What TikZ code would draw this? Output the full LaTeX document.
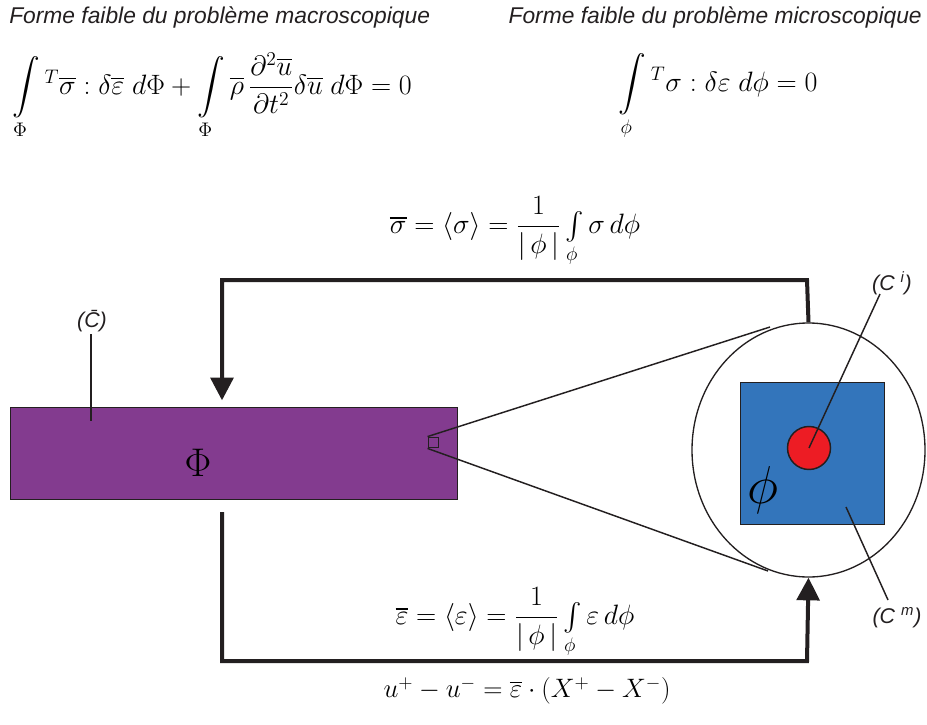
\RequirePackage{fix-cm}
\documentclass[tikz,border=0pt]{standalone}
\usepackage{fontspec}
\usepackage{amsmath}
\usetikzlibrary{arrows.meta,shapes.geometric}
\newfontfamily\labfont{Liberation Sans}
\definecolor{macro}{RGB}{131,59,143}
\definecolor{micro}{RGB}{51,117,187}
\definecolor{incl}{RGB}{237,28,36}
\definecolor{txt}{RGB}{35,31,32}
\begin{document}
\begin{tikzpicture}[x=0.75pt,y=-0.75pt,
  title/.style={font=\labfont\itshape\fontsize{17.1}{19}\selectfont,text=txt,inner sep=0pt},
  lab/.style={font=\labfont\itshape\fontsize{16}{18}\selectfont,text=txt,inner sep=0pt},
  eq/.style={font=\fontsize{21}{25}\selectfont,inner sep=0pt},
  flow/.style={line width=3pt,draw=txt},
  thin/.style={line width=1.1pt,draw=txt},
  head/.style={-{Triangle[width=17pt,length=17pt]}}]
\useasboundingbox (0,0) rectangle (927,724);
% titles
\node[title,anchor=west] (t1) at (9,17) {Forme faible du problème macroscopique};
\node[title,anchor=east] (t2) at (922,17) {Forme faible du problème microscopique};
% weak forms
\node[eq,anchor=west] (e1) at (12,96) {$\displaystyle\int\limits_{\Phi}{}^{T}\overline{\sigma}:\delta\overline{\varepsilon}\;d\Phi+\int\limits_{\Phi}\overline{\rho}\,\frac{\partial^2\overline{u}}{\partial t^2}\delta\overline{u}\;d\Phi=0$};
\node[eq] (e2) at (718,97) {$\displaystyle\int\limits_{\phi}{}^{T}\sigma:\delta\varepsilon\;d\phi=0$};
% macro domain
\node[draw=txt,line width=0.9pt,fill=macro,minimum width=447*0.75pt,minimum height=92*0.75pt,anchor=north west,inner sep=0pt] (macro) at (10,407) {};
\node[font=\fontsize{30}{34}\selectfont,inner sep=0pt] (Phi) at (198,463) {$\Phi$};
\node[draw=txt,line width=0.9pt,minimum size=8pt,inner sep=0pt] (sq) at (433.5,442.5) {};
% zoom circle
\node[draw=txt,line width=1pt,ellipse,minimum width=233*0.75pt,minimum height=254*0.75pt,inner sep=0pt] (zc) at (808.5,450) {};
\node[draw=txt,line width=0.6pt,fill=micro,minimum width=144*0.75pt,minimum height=142*0.75pt,anchor=north west,inner sep=0pt] (micro) at (740,382) {};
\node[draw=txt,line width=1.1pt,fill=incl,circle,minimum size=43*0.75pt,inner sep=0pt] (inc) at (809,448) {};
\node[font=\fontsize{40}{44}\selectfont,inner sep=0pt] (phi) at (763,490) {$\phi$};
\coordinate (tu) at (770,327);
\coordinate (tl) at (768,571);
\draw[thin] (sq.north west) -- (tu);
\draw[thin] (sq.south west) -- (tl);
% labels
\node[lab] (Cb) at (92,321) {(\={C})};
\draw[thin] (91,334) -- (91,421);
\node[lab] (Ci) at (892,283) {(C\,\textsuperscript{\,i})};
\draw[thin] (880,294) -- (inc.center);
\node[lab] (Cm) at (897,618) {(C\,\textsuperscript{\,m})};
\draw[thin] (846,507) -- (888,600);
% flows
\coordinate (a1) at (807,280);
\coordinate (a2) at (222,280);
\draw[flow,head,shorten >=5pt] (zc.north) -- (a1) -- (a2) -- (macro.north -| a2);
\coordinate (b0) at (222,512);
\coordinate (b1) at (222,661);
\coordinate (b2) at (807,661);
\draw[flow,head] (b0) -- (b1) -- (b2) -- (zc.south);
% homogenisation equations
\node[eq] (e3) at (515,232) {$\overline{\sigma}=\langle\sigma\rangle=\dfrac{1}{|\,\phi\,|}\int\limits_{\phi}\sigma\,d\phi$};
\node[eq] (e4) at (515,623) {$\overline{\varepsilon}=\langle\varepsilon\rangle=\dfrac{1}{|\,\phi\,|}\int\limits_{\phi}\varepsilon\,d\phi$};
\node[eq,font=\fontsize{20}{24}\selectfont] (e5) at (527,691) {$u^{+}-u^{-}=\overline{\varepsilon}\cdot(X^{+}-X^{-})$};
\end{tikzpicture}
\end{document}
